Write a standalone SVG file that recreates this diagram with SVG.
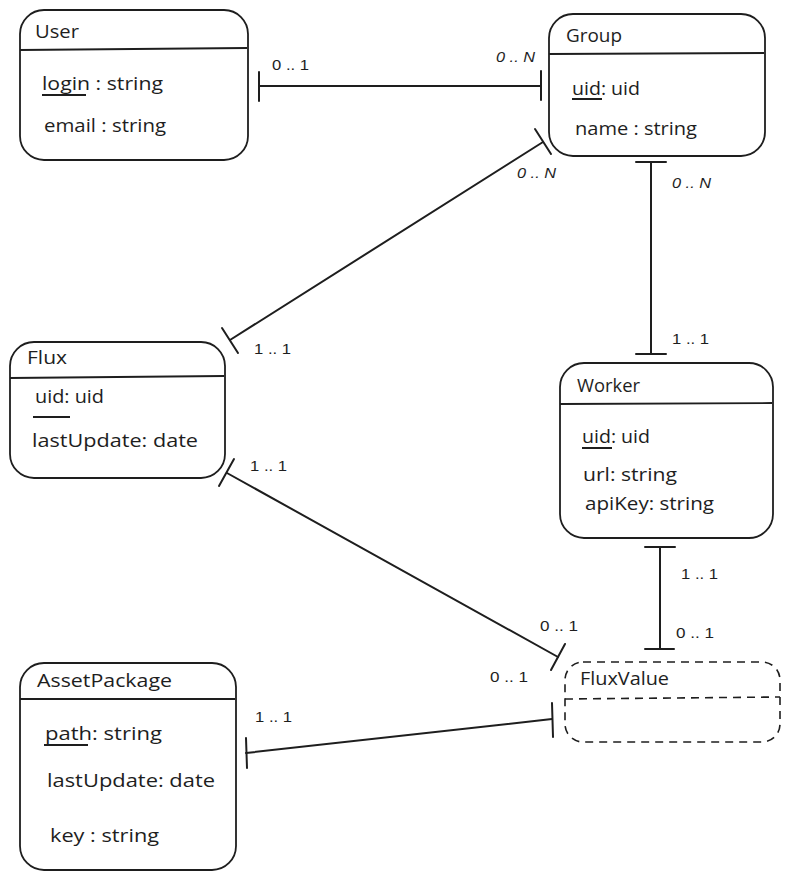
<svg xmlns="http://www.w3.org/2000/svg" width="789" height="879" viewBox="0 0 789 879">
<style>
.box{fill:#ffffff;stroke:#1e1e1e;stroke-width:1.8}
.dash{fill:none;stroke:#1e1e1e;stroke-width:1.6;stroke-dasharray:8 6}
.div{stroke:#1e1e1e;stroke-width:1.8}
.ul{stroke:#1e1e1e;stroke-width:2}
.t{font-family:"Open Sans","Liberation Sans",sans-serif;font-size:18px;fill:#1e1e1e}
.lbl{font-family:"Liberation Sans",sans-serif;font-size:15px;fill:#1e1e1e}
.conn line{stroke:#1e1e1e;stroke-width:2;stroke-linecap:round}
</style>
<rect width="789" height="879" fill="#ffffff"/>

<g id="connectors" class="conn">
  <line x1="259" y1="86" x2="541" y2="86"/>
  <line x1="259" y1="72" x2="259" y2="101"/>
  <line x1="541" y1="71" x2="541" y2="100"/>
  <line x1="230" y1="340" x2="543" y2="142"/>
  <line x1="222" y1="328" x2="238" y2="353"/>
  <line x1="535" y1="129" x2="551" y2="154"/>
  <line x1="651" y1="162" x2="651" y2="354"/>
  <line x1="636" y1="162" x2="666" y2="162"/>
  <line x1="636" y1="354" x2="666" y2="354"/>
  <line x1="227" y1="473" x2="558" y2="657"/>
  <line x1="219" y1="486" x2="234" y2="459"/>
  <line x1="551" y1="670" x2="565" y2="644"/>
  <line x1="660" y1="547" x2="660" y2="649"/>
  <line x1="645" y1="547" x2="675" y2="547"/>
  <line x1="645" y1="649" x2="674" y2="649"/>
  <line x1="246" y1="753" x2="552" y2="719"/>
  <line x1="246" y1="738" x2="247" y2="768"/>
  <line x1="552" y1="703" x2="553" y2="737"/>
  <text class="lbl" x="272" y="70" textLength="37" lengthAdjust="spacingAndGlyphs">0 .. 1</text>
  <text class="lbl" x="496" y="62" textLength="39" lengthAdjust="spacingAndGlyphs" font-style="italic">0 .. N</text>
  <text class="lbl" x="517" y="178" textLength="39" lengthAdjust="spacingAndGlyphs" font-style="italic">0 .. N</text>
  <text class="lbl" x="254" y="354" textLength="37" lengthAdjust="spacingAndGlyphs">1 .. 1</text>
  <text class="lbl" x="672" y="188" textLength="39" lengthAdjust="spacingAndGlyphs" font-style="italic">0 .. N</text>
  <text class="lbl" x="672" y="344" textLength="37" lengthAdjust="spacingAndGlyphs">1 .. 1</text>
  <text class="lbl" x="250" y="471" textLength="37" lengthAdjust="spacingAndGlyphs">1 .. 1</text>
  <text class="lbl" x="540" y="631" textLength="38" lengthAdjust="spacingAndGlyphs">0 .. 1</text>
  <text class="lbl" x="490" y="682" textLength="38" lengthAdjust="spacingAndGlyphs">0 .. 1</text>
  <text class="lbl" x="255" y="722" textLength="37" lengthAdjust="spacingAndGlyphs">1 .. 1</text>
  <text class="lbl" x="681" y="579" textLength="37" lengthAdjust="spacingAndGlyphs">1 .. 1</text>
  <text class="lbl" x="676" y="638" textLength="38" lengthAdjust="spacingAndGlyphs">0 .. 1</text>
</g>

<g id="User">
  <rect class="box" x="20" y="10" width="228" height="150" rx="24"/>
  <line class="div" x1="20" y1="50" x2="247" y2="48"/>
  <text class="t" x="35" y="38" textLength="44" lengthAdjust="spacingAndGlyphs">User</text>
  <text class="t" x="42" y="90" textLength="121" lengthAdjust="spacingAndGlyphs">login : string</text>
  <line class="ul" x1="42" y1="95" x2="86" y2="95"/>
  <text class="t" x="44" y="132" textLength="122" lengthAdjust="spacingAndGlyphs">email : string</text>
</g>

<g id="Group">
  <rect class="box" x="549" y="14" width="216" height="142" rx="24"/>
  <line class="div" x1="549" y1="54" x2="764" y2="53"/>
  <text class="t" x="566" y="42" textLength="56" lengthAdjust="spacingAndGlyphs">Group</text>
  <text class="t" x="572" y="95" textLength="68" lengthAdjust="spacingAndGlyphs">uid: uid</text>
  <line class="ul" x1="572" y1="99" x2="602" y2="99"/>
  <text class="t" x="575" y="135" textLength="122" lengthAdjust="spacingAndGlyphs">name : string</text>
</g>

<g id="Flux">
  <rect class="box" x="10" y="342" width="215" height="136" rx="24"/>
  <line class="div" x1="10" y1="378" x2="224" y2="376"/>
  <text class="t" x="27" y="364" textLength="40" lengthAdjust="spacingAndGlyphs">Flux</text>
  <text class="t" x="35" y="403" textLength="69" lengthAdjust="spacingAndGlyphs">uid: uid</text>
  <line class="ul" x1="33" y1="417" x2="70" y2="417"/>
  <text class="t" x="32" y="447" textLength="166" lengthAdjust="spacingAndGlyphs">lastUpdate: date</text>
</g>

<g id="Worker">
  <rect class="box" x="560" y="363" width="213" height="175" rx="24"/>
  <line class="div" x1="560" y1="404" x2="772" y2="403"/>
  <text class="t" x="577" y="392" textLength="63" lengthAdjust="spacingAndGlyphs">Worker</text>
  <text class="t" x="582" y="443" textLength="68" lengthAdjust="spacingAndGlyphs">uid: uid</text>
  <line class="ul" x1="582" y1="448" x2="612" y2="448"/>
  <text class="t" x="583" y="481" textLength="94" lengthAdjust="spacingAndGlyphs">url: string</text>
  <text class="t" x="585" y="510" textLength="129" lengthAdjust="spacingAndGlyphs">apiKey: string</text>
</g>

<g id="FluxValue">
  <rect class="dash" x="565" y="662" width="215" height="80" rx="18"/>
  <line class="dash" x1="565" y1="699" x2="780" y2="697"/>
  <text class="t" x="580" y="685" textLength="89" lengthAdjust="spacingAndGlyphs">FluxValue</text>
</g>

<g id="AssetPackage">
  <rect class="box" x="20" y="663" width="216" height="207" rx="24"/>
  <line class="div" x1="20" y1="699" x2="235" y2="699"/>
  <text class="t" x="37" y="687" textLength="135" lengthAdjust="spacingAndGlyphs">AssetPackage</text>
  <text class="t" x="45" y="740" textLength="117" lengthAdjust="spacingAndGlyphs">path: string</text>
  <line class="ul" x1="44" y1="745" x2="88" y2="745"/>
  <text class="t" x="47" y="787" textLength="168" lengthAdjust="spacingAndGlyphs">lastUpdate: date</text>
  <text class="t" x="50" y="842" textLength="109" lengthAdjust="spacingAndGlyphs">key : string</text>
</g>
</svg>
